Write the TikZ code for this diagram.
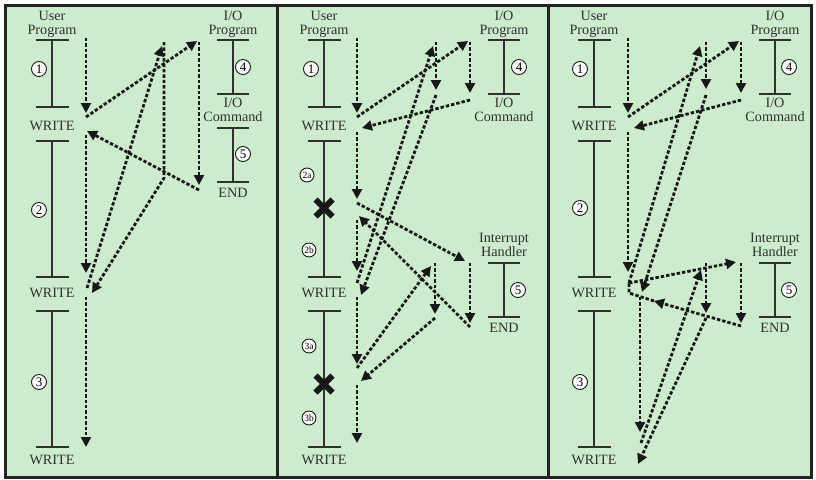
\documentclass[tikz,border=0pt]{standalone}
\usepackage{fontspec}
\setmainfont{Liberation Serif}
\usetikzlibrary{arrows.meta}
\definecolor{bgc}{RGB}{205,236,206}
\definecolor{ink}{RGB}{24,24,24}
\definecolor{linec}{RGB}{48,48,48}
\definecolor{framec}{RGB}{35,35,35}
\begin{document}
\begin{tikzpicture}[x=1pt,y=-1pt,
  flow/.style={draw=ink, line width=2.8pt, dash pattern=on 3.4pt off 2pt, -{Triangle[length=10pt,width=10pt]}},
  flowplain/.style={draw=ink, line width=2.8pt, dash pattern=on 3.4pt off 2pt},
  tl/.style={draw=linec, line width=1.2pt},
  frame/.style={draw=framec, line width=3pt},
  lbl/.style={font=\fontsize{14.2}{14.3}\selectfont, inner sep=0pt, text=linec, anchor=base},
  num/.style={circle, draw=ink, fill=white, line width=0.9pt, minimum size=15pt, inner sep=0pt, font=\fontsize{13}{13}\selectfont},
  nums/.style={num, minimum size=14pt, font=\fontsize{9.5}{9.5}\selectfont},
  cross/.style={line width=6pt, draw=ink}
]
\useasboundingbox (0,0) rectangle (816,479);
\fill[bgc] (5,5) rectangle (811,477);
\draw[frame] (5,5) rectangle (811,477);
\draw[frame] (277.3,5) -- (277.3,477);
\draw[frame] (548.3,5) -- (548.3,477);

% user program timelines
\foreach \ux in {52,324,594} {
  \foreach \ya/\yb in {40/107,141/277,311/447} {
    \draw[tl] (\ux-16.5,\ya) -- (\ux+16.5,\ya) (\ux,\ya) -- (\ux,\yb) (\ux-16.5,\yb) -- (\ux+16.5,\yb);
  }
}
% I/O program timelines
\foreach \ix in {233,504,775} {
  \draw[tl] (\ix-16,40) -- (\ix+16,40) (\ix,40) -- (\ix,94) (\ix-16,94) -- (\ix+16,94);
}
\draw[tl] (233-16,128) -- (233+16,128) (233,128) -- (233,182) (233-16,182) -- (233+16,182);
\foreach \ix in {504,775} {
  \draw[tl] (\ix-16,263) -- (\ix+16,263) (\ix,263) -- (\ix,317) (\ix-16,317) -- (\ix+16,317);
}

% labels
\foreach \p/\ux/\ix in {1/52/233,2/324/504,3/594/775} {
  \node[lbl] (user\p) at (\ux,20) {User};
  \node[lbl] (userprog\p) at (\ux,34.3) {Program};
  \node[lbl] (io\p) at (\ix,20) {I/O};
  \node[lbl] (ioprog\p) at (\ix,34.3) {Program};
  \node[lbl] (iocmd\p) at (\ix,107) {I/O};
  \node[lbl] (cmd\p) at (\ix,121) {Command};
  \node[lbl] (wa\p) at (\ux,130.8) {WRITE};
  \node[lbl] (wb\p) at (\ux,297.8) {WRITE};
  \node[lbl] (wc\p) at (\ux,464.8) {WRITE};
}
\node[lbl] (end1) at (233,197) {END};
\foreach \p/\ix in {2/504,3/775} {
  \node[lbl] (intr\p) at (\ix,242.4) {Interrupt};
  \node[lbl] (hand\p) at (\ix,256.7) {Handler};
  \node[lbl] (end\p) at (\ix,332.7) {END};
}

% circled numbers
\node[num] (n11) at (39,69) {1};
\node[num] (n12) at (39,210) {2};
\node[num] (n13) at (39,382) {3};
\node[num] (n14) at (243,67) {4};
\node[num] (n15) at (243,154) {5};
\node[num] (n21) at (311,69) {1};
\node[nums] (n22a) at (307,175) {2a};
\node[nums] (n22b) at (309,250) {2b};
\node[nums] (n23a) at (309,346) {3a};
\node[nums] (n23b) at (309,418) {3b};
\node[num] (n24) at (519,67) {4};
\node[num] (n25) at (518,290) {5};
\node[num] (n31) at (580,69) {1};
\node[num] (n32) at (580,208) {2};
\node[num] (n33) at (580,382) {3};
\node[num] (n34) at (789,67) {4};
\node[num] (n35) at (789,290) {5};

% crosses
\coordinate (x1) at (324,208);
\coordinate (x2) at (324,384);
\foreach \c in {x1,x2} {
  \draw[cross] ([shift={(-8.5,-8.5)}]\c) -- ([shift={(8.5,8.5)}]\c)
               ([shift={(-8.5,8.5)}]\c) -- ([shift={(8.5,-8.5)}]\c);
}

% ---------- panel 1 flow ----------
\coordinate (p1a) at (86,38);   \coordinate (p1b) at (86,113);
\coordinate (p1c) at (86,117);  \coordinate (p1d) at (197,41);
\coordinate (p1e) at (199,42);  \coordinate (p1f) at (199,185);
\coordinate (p1g) at (199,190); \coordinate (p1h) at (87,131);
\coordinate (p1i) at (86,135);  \coordinate (p1j) at (86,273);
\coordinate (p1k) at (87,288);  \coordinate (p1l) at (162,46);
\coordinate (p1m) at (164,42);  \coordinate (p1n) at (164,178);
\coordinate (p1o) at (92,293);
\coordinate (p1p) at (86,297);  \coordinate (p1q) at (86,447);
\draw[flow] (p1a) -- (p1b);
\draw[flow] (p1c) -- (p1d);
\draw[flow] (p1e) -- (p1f);
\draw[flow] (p1g) -- (p1h);
\draw[flow] (p1i) -- (p1j);
\draw[flow] (p1k) -- (p1l);
\draw[flow] (p1m) -- (p1n) -- (p1o);
\draw[flow] (p1p) -- (p1q);

% ---------- panel 2 flow ----------
\coordinate (p2a) at (357,38);   \coordinate (p2b) at (357,113);
\coordinate (p2c) at (357,117);  \coordinate (p2d) at (468,41);
\coordinate (p2e) at (470,42);   \coordinate (p2f) at (470,93);
\coordinate (p2g) at (470,100);  \coordinate (p2h) at (362,128);
\coordinate (p2i) at (357,132);  \coordinate (p2j) at (357,199);
\coordinate (p2k) at (357,203);  \coordinate (p2l) at (465,261);
\coordinate (p2m) at (470,263);  \coordinate (p2n) at (470,323);
\coordinate (p2o) at (470,327);  \coordinate (p2p) at (359,216);
\coordinate (p2q) at (357,220);  \coordinate (p2r) at (357,271);
\coordinate (p2s) at (357,283);  \coordinate (p2t) at (433,46);
\coordinate (p2u) at (436,42);   \coordinate (p2v) at (436,90);
\coordinate (p2w) at (436,95);   \coordinate (p2x) at (361,295);
\coordinate (p2y) at (357,297);  \coordinate (p2z) at (357,364);
\coordinate (p2aa) at (357,368); \coordinate (p2ab) at (431,266);
\coordinate (p2ac) at (435,263); \coordinate (p2ad) at (435,314);
\coordinate (p2ae) at (435,318); \coordinate (p2af) at (361,381);
\coordinate (p2ag) at (357,385); \coordinate (p2ah) at (357,443);
\draw[flow] (p2a) -- (p2b);
\draw[flow] (p2c) -- (p2d);
\draw[flow] (p2e) -- (p2f);
\draw[flow] (p2g) -- (p2h);
\draw[flow] (p2i) -- (p2j);
\draw[flow] (p2k) -- (p2l);
\draw[flow] (p2m) -- (p2n);
\draw[flow] (p2o) -- (p2p);
\draw[flow] (p2q) -- (p2r);
\draw[flow] (p2s) -- (p2t);
\draw[flow] (p2u) -- (p2v);
\draw[flow] (p2w) -- (p2x);
\draw[flow] (p2y) -- (p2z);
\draw[flow] (p2aa) -- (p2ab);
\draw[flow] (p2ac) -- (p2ad);
\draw[flow] (p2ae) -- (p2af);
\draw[flow] (p2ag) -- (p2ah);

% ---------- panel 3 flow ----------
\coordinate (p3a) at (628,38);   \coordinate (p3b) at (628,113);
\coordinate (p3c) at (628,117);  \coordinate (p3d) at (739,41);
\coordinate (p3e) at (741,42);   \coordinate (p3f) at (741,93);
\coordinate (p3g) at (741,100);  \coordinate (p3h) at (634,128);
\coordinate (p3i) at (628,132);  \coordinate (p3j) at (628,272);
\coordinate (p3k) at (629,283);  \coordinate (p3l) at (700,46);
\coordinate (p3m) at (706,42);   \coordinate (p3n) at (706,89);
\coordinate (p3o) at (706,95);   \coordinate (p3p) at (642,292);
\coordinate (p3r) at (736,262);
\coordinate (p3s) at (741,263);  \coordinate (p3t) at (741,323);
\coordinate (p3u) at (741,326);  \coordinate (p3v) at (654,301);
\coordinate (p3w) at (629,293);
\coordinate (p3x) at (640,297);  \coordinate (p3y) at (640,432);
\coordinate (p3z) at (641,443);  \coordinate (p3aa) at (701,270);
\coordinate (p3ab) at (706,263); \coordinate (p3ac) at (706,313);
\coordinate (p3ad) at (706,318); \coordinate (p3ae) at (638,464);
\draw[flow] (p3a) -- (p3b);
\draw[flow] (p3c) -- (p3d);
\draw[flow] (p3e) -- (p3f);
\draw[flow] (p3g) -- (p3h);
\draw[flow] (p3i) -- (p3j);
\draw[flow] (p3k) -- (p3l);
\draw[flow] (p3m) -- (p3n);
\draw[flow] (p3o) -- (p3p);
\draw[flow] (p3k) -- (p3r);
\draw[flow] (p3s) -- (p3t);
\draw[flow] (p3u) -- (p3v);
\draw[flowplain] (p3v) -- (p3w) -- (p3k);
\draw[flow] (p3x) -- (p3y);
\draw[flow] (p3z) -- (p3aa);
\draw[flow] (p3ab) -- (p3ac);
\draw[flow] (p3ad) -- (p3ae);
\end{tikzpicture}
\end{document}
